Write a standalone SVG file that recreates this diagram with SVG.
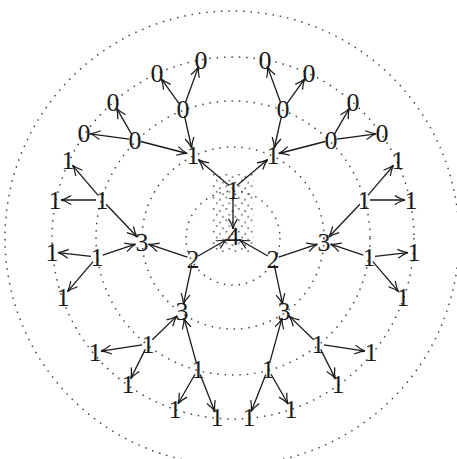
<svg xmlns="http://www.w3.org/2000/svg" width="457" height="459" viewBox="0 0 457 459">
<style>
.ring{fill:none;stroke:#444;stroke-width:1.5;stroke-dasharray:1.5 5.9}
.e{stroke:#1a1a1a;stroke-width:1.3;fill:none;marker-end:url(#ah)}
text{font-family:"Liberation Serif","DejaVu Serif",serif;font-size:26px;fill:#1a1a1a;text-anchor:middle}
</style>
<defs>
<marker id="ah" markerUnits="userSpaceOnUse" markerWidth="14" markerHeight="12" refX="0" refY="0" viewBox="-13 -6 15 12" orient="auto" overflow="visible">
<path d="M-11,-4.8 Q-4.5,-0.9 0,0 Q-4.5,0.9 -11,4.8" fill="none" stroke="#1a1a1a" stroke-width="1.3"/>
</marker>
<pattern id="stip" patternUnits="userSpaceOnUse" x="212" y="173" width="12.6" height="11.4">
<rect x="1" y="1" width="1.4" height="1.4" fill="#333"/>
<rect x="7.3" y="3.2" width="1.4" height="1.4" fill="#333"/>
<rect x="4" y="6.8" width="1.4" height="1.4" fill="#333"/>
<rect x="10.2" y="9" width="1.4" height="1.4" fill="#333"/>
</pattern>
</defs>
<rect width="457" height="459" fill="#fff"/>
<g id="rings">
<rect x="212" y="173" width="42" height="79" fill="url(#stip)"/>
<circle class="ring" cx="233" cy="238" r="47"/>
<circle class="ring" cx="233" cy="238" r="91"/>
<circle class="ring" cx="233" cy="238" r="137"/>
<circle class="ring" cx="233" cy="238" r="181"/>
<circle class="ring" cx="232" cy="238" r="227"/>
</g>
<g id="connectors">
<line class="e" x1="233" y1="197" x2="233" y2="229"/>
<line class="e" x1="198.2" y1="256" x2="226.9" y2="239.5"/>
<line class="e" x1="267.8" y1="256" x2="239.1" y2="239.5"/>
<line class="e" x1="229" y1="185.5" x2="198.3" y2="159.6"/>
<line class="e" x1="237" y1="185.5" x2="267.7" y2="159.6"/>
<line class="e" x1="184.5" y1="115.8" x2="191.7" y2="148"/>
<line class="e" x1="140.8" y1="141.5" x2="187.2" y2="153.5"/>
<line class="e" x1="185.6" y1="102" x2="198.6" y2="66.6"/>
<line class="e" x1="179.5" y1="104.1" x2="161.1" y2="78.7"/>
<line class="e" x1="132" y1="134.8" x2="116.5" y2="108.1"/>
<line class="e" x1="129.1" y1="139.2" x2="89.9" y2="133.8"/>
<line class="e" x1="281.5" y1="115.8" x2="274.3" y2="148"/>
<line class="e" x1="325.2" y1="141.5" x2="278.8" y2="153.5"/>
<line class="e" x1="280.4" y1="102" x2="267.4" y2="66.6"/>
<line class="e" x1="286.5" y1="104.1" x2="304.9" y2="78.7"/>
<line class="e" x1="334" y1="134.8" x2="349.5" y2="108.1"/>
<line class="e" x1="336.9" y1="139.2" x2="376.1" y2="133.8"/>
<line class="e" x1="187.3" y1="257.1" x2="148.6" y2="244.2"/>
<line class="e" x1="191.8" y1="264.9" x2="183.4" y2="304.2"/>
<line class="e" x1="106.1" y1="204.3" x2="137.2" y2="237"/>
<line class="e" x1="102.7" y1="255.1" x2="135.4" y2="244.2"/>
<line class="e" x1="98.1" y1="195.4" x2="72.5" y2="165.3"/>
<line class="e" x1="96" y1="200" x2="61" y2="200"/>
<line class="e" x1="91" y1="256.3" x2="58" y2="252.7"/>
<line class="e" x1="93.1" y1="261.6" x2="67.5" y2="291.7"/>
<line class="e" x1="152.3" y1="339.8" x2="177" y2="315.9"/>
<line class="e" x1="196.4" y1="363.2" x2="184" y2="318.2"/>
<line class="e" x1="142.1" y1="344.9" x2="101" y2="351.1"/>
<line class="e" x1="145.3" y1="349.4" x2="130.7" y2="378.6"/>
<line class="e" x1="195" y1="374.2" x2="178" y2="403.8"/>
<line class="e" x1="200.2" y1="374.6" x2="214.8" y2="411.4"/>
<line class="e" x1="278.7" y1="257.1" x2="317.4" y2="244.2"/>
<line class="e" x1="274.2" y1="264.9" x2="282.6" y2="304.2"/>
<line class="e" x1="359.9" y1="204.3" x2="328.8" y2="237"/>
<line class="e" x1="363.3" y1="255.1" x2="330.6" y2="244.2"/>
<line class="e" x1="367.9" y1="195.4" x2="393.5" y2="165.3"/>
<line class="e" x1="370" y1="200" x2="405" y2="200"/>
<line class="e" x1="375" y1="256.3" x2="408" y2="252.7"/>
<line class="e" x1="372.9" y1="261.6" x2="398.5" y2="291.7"/>
<line class="e" x1="313.7" y1="339.8" x2="289" y2="315.9"/>
<line class="e" x1="269.6" y1="363.2" x2="282" y2="318.2"/>
<line class="e" x1="323.9" y1="344.9" x2="365" y2="351.1"/>
<line class="e" x1="320.7" y1="349.4" x2="335.3" y2="378.6"/>
<line class="e" x1="271" y1="374.2" x2="288" y2="403.8"/>
<line class="e" x1="265.8" y1="374.6" x2="251.2" y2="411.4"/>
</g>
<g id="n4"><text x="233" y="244.8">4</text></g>
<g id="c1"><text x="233" y="198.8">1</text></g>
<g id="L2"><text x="193" y="267.8">2</text></g>
<g id="R2"><text x="273" y="267.8">2</text></g>
<g id="UL1"><text x="193" y="163.8">1</text></g>
<g id="UR1"><text x="273" y="163.8">1</text></g>
<g id="L3"><text x="142" y="250.8">3</text></g>
<g id="R3"><text x="324" y="250.8">3</text></g>
<g id="LL3"><text x="182" y="319.8">3</text></g>
<g id="LR3"><text x="284" y="319.8">3</text></g>
<g id="a0"><text x="183" y="117.8">0</text></g>
<g id="c0"><text x="283" y="117.8">0</text></g>
<g id="b0"><text x="135" y="148.8">0</text></g>
<g id="d0"><text x="331" y="148.8">0</text></g>
<g id="e1"><text x="102" y="208.8">1</text></g>
<g id="i1"><text x="364" y="208.8">1</text></g>
<g id="f1"><text x="97" y="265.8">1</text></g>
<g id="j1"><text x="369" y="265.8">1</text></g>
<g id="g1"><text x="148" y="352.8">1</text></g>
<g id="k1"><text x="318" y="352.8">1</text></g>
<g id="h1"><text x="198" y="377.8">1</text></g>
<g id="l1"><text x="268" y="377.8">1</text></g>
<g id="A1"><text x="201" y="68.8">0</text></g>
<g id="A2"><text x="157" y="81.8">0</text></g>
<g id="C1"><text x="265" y="68.8">0</text></g>
<g id="C2"><text x="309" y="81.8">0</text></g>
<g id="B1"><text x="113" y="110.8">0</text></g>
<g id="B2"><text x="84" y="141.8">0</text></g>
<g id="D1"><text x="353" y="110.8">0</text></g>
<g id="D2"><text x="382" y="141.8">0</text></g>
<g id="E1"><text x="68" y="168.8">1</text></g>
<g id="E2"><text x="55" y="208.8">1</text></g>
<g id="I1"><text x="398" y="168.8">1</text></g>
<g id="I2"><text x="411" y="208.8">1</text></g>
<g id="F1"><text x="52" y="260.8">1</text></g>
<g id="F2"><text x="63" y="305.8">1</text></g>
<g id="J1"><text x="414" y="260.8">1</text></g>
<g id="J2"><text x="403" y="305.8">1</text></g>
<g id="G1"><text x="95" y="360.8">1</text></g>
<g id="G2"><text x="128" y="392.8">1</text></g>
<g id="K1"><text x="371" y="360.8">1</text></g>
<g id="K2"><text x="338" y="392.8">1</text></g>
<g id="H1"><text x="175" y="417.8">1</text></g>
<g id="H2"><text x="217" y="425.8">1</text></g>
<g id="L1b"><text x="291" y="417.8">1</text></g>
<g id="L2b"><text x="249" y="425.8">1</text></g>
</svg>
